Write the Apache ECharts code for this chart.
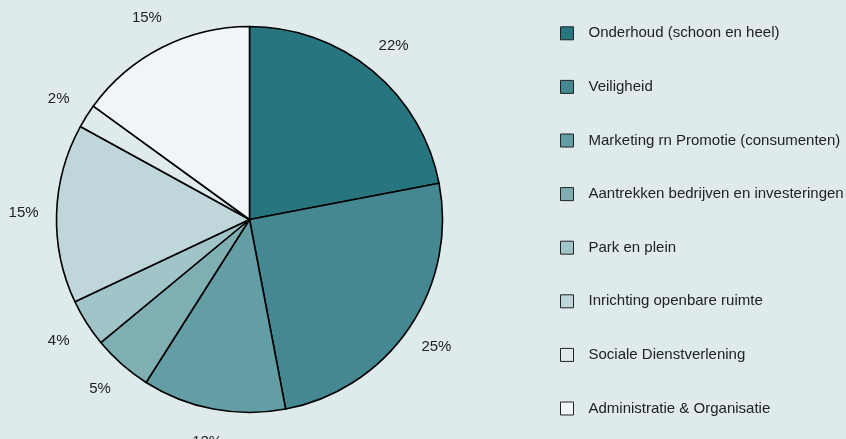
<!DOCTYPE html>
<html>
<head>
<meta charset="utf-8">
<script src="https://cdn.jsdelivr.net/npm/echarts@6/dist/echarts.min.js"></script>
<style>
html,body{margin:0;padding:0;background:#dfeaec;}
#c{width:846px;height:439px;}
</style>
</head>
<body>
<div id="c"></div>
<script>
const categories = [
  'Onderhoud (schoon en heel)',
  'Veiligheid',
  'Marketing rn Promotie (consumenten)',
  'Aantrekken bedrijven en investeringen',
  'Park en plein',
  'Inrichting openbare ruimte',
  'Sociale Dienstverlening',
  'Administratie & Organisatie'
];
const values = [22, 25, 12, 5, 4, 15, 2, 15];
const colors = ['#26757f', '#458892', '#639ea4', '#80afb3', '#a1c4c8', '#bfd7db', '#deeaec', '#f0f6f7'];

const FONT = 'Liberation Sans, Arial, Helvetica, sans-serif';
const chart = echarts.init(document.getElementById('c'), null, {renderer: 'canvas'});
const data = categories.map((n, i) => ({name: n, value: values[i], itemStyle: {color: colors[i]}}));
chart.setOption({
  backgroundColor: '#dfeaec',
  animation: false,
  legend: {
    orient: 'vertical',
    left: 560,
    top: 25.3,
    padding: 0,
    itemWidth: 13,
    itemHeight: 13,
    itemGap: 37.6,
    icon: 'rect',
    itemStyle: {borderColor: '#222', borderWidth: 1},
    textStyle: {fontFamily: FONT, fontSize: 15, lineHeight: 16, color: '#222', padding: [0, 0, 0, 10]},
    selectedMode: false,
    data: categories
  },
  series: [
    {
      type: 'pie',
      center: [249.5, 219.5],
      radius: [0, 193],
      startAngle: 90,
      clockwise: true,
      avoidLabelOverlap: false,
      itemStyle: {borderColor: '#000', borderWidth: 1.6},
      label: {show: false},
      labelLine: {show: false},
      emphasis: {disabled: true},
      data: data
    },
    {
      type: 'pie',
      center: [249.5, 219.5],
      radius: [215, 231],
      startAngle: 90,
      clockwise: true,
      silent: true,
      legendHoverLink: false,
      avoidLabelOverlap: false,
      itemStyle: {color: 'rgba(0,0,0,0)', borderWidth: 0},
      label: {
        show: true,
        position: 'inside',
        formatter: p => p.value + '%',
        fontFamily: FONT,
        fontSize: 15,
        color: '#222'
      },
      labelLine: {show: false},
      emphasis: {disabled: true},
      data: values.map(v => ({value: v}))
    }
  ]
});
</script>
</body>
</html>
